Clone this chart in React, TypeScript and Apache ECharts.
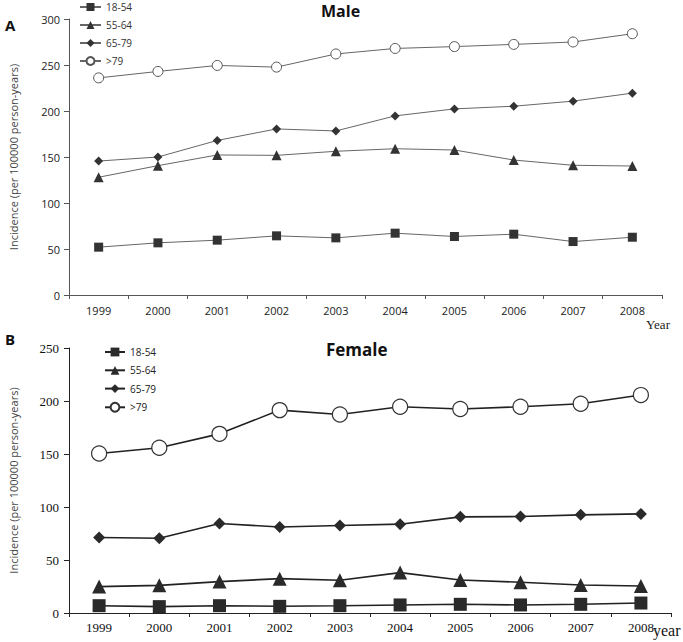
import React, { useEffect, useRef } from "react";
import * as echarts from "echarts";

const years = ["1999", "2000", "2001", "2002", "2003", "2004", "2005", "2006", "2007", "2008"];
const groups = ["18-54", "55-64", "65-79", ">79"];

const male18_54 = [52, 56.7, 59.6, 64.3, 62.1, 67.2, 63.6, 66.1, 58.1, 62.8];
const male55_64 = [128, 140.6, 152.2, 151.8, 156.2, 159, 157.6, 146.7, 141, 140.2];
const male65_79 = [145.6, 150, 168, 180.5, 178.3, 194.7, 202.3, 205.2, 210.7, 219.4];
const male79 = [236, 243, 249.5, 247.7, 262, 268, 270, 272.4, 275, 284];

const female18_54 = [6.9, 6, 6.9, 6.3, 6.9, 7.6, 8.2, 7.6, 8.2, 9.4];
const female55_64 = [24.9, 26.1, 29.6, 32.4, 30.9, 38.1, 31.2, 29, 26.4, 25.5];
const female65_79 = [71.2, 70.5, 84.4, 81.2, 82.5, 83.8, 90.7, 91, 92.6, 93.5];
const female79 = [150.5, 155.9, 169, 191.4, 187.3, 194.6, 192.4, 194.6, 197.4, 205.6];

const maleData = [male18_54, male55_64, male65_79, male79];
const femaleData = [female18_54, female55_64, female65_79, female79];

const symbols = ["rect", "triangle", "diamond", "circle"];
const topSizes = [9, 10, 9, 10];
const botSizes = [13, 14, 12, 15];

const SANS = "'Open Sans', 'Noto Sans', sans-serif";
const SERIF = "'Liberation Serif', 'DejaVu Serif', serif";

export default function App() {
  const ref = useRef<HTMLDivElement>(null);
  useEffect(() => {
    if (!ref.current) return;
    const chart = echarts.init(ref.current, undefined, { renderer: "svg" });

    const series: any[] = [];
    groups.forEach((g, i) => {
      const open = i === 3;
      series.push({
        name: "M " + g,
        type: "line",
        xAxisIndex: 0,
        yAxisIndex: 0,
        data: maleData[i],
        symbol: symbols[i],
        symbolSize: topSizes[i],
        showAllSymbol: true,
        lineStyle: { color: "#666", width: 1 },
        itemStyle: open
          ? { color: "#fff", borderColor: "#555", borderWidth: 1 }
          : { color: "#333", borderWidth: 0 },
      });
    });
    groups.forEach((g, i) => {
      const open = i === 3;
      series.push({
        name: "F " + g,
        type: "line",
        xAxisIndex: 1,
        yAxisIndex: 1,
        data: femaleData[i],
        symbol: symbols[i],
        symbolSize: botSizes[i],
        showAllSymbol: true,
        lineStyle: { color: "#222", width: 1.6 },
        itemStyle: open
          ? { color: "#fff", borderColor: "#333", borderWidth: 1.2 }
          : { color: "#2a2a2a", borderWidth: 0 },
      });
    });

    const option: any = {
      animation: false,
      backgroundColor: "#fff",
      grid: [
        { left: 66, right: 21, top: 19, height: 276 },
        { left: 67, right: 12, top: 348, height: 265 },
      ],
      xAxis: [
        {
          gridIndex: 0,
          type: "category",
          data: years,
          boundaryGap: true,
          axisLine: { lineStyle: { color: "#555", width: 1 } },
          axisTick: { show: true, length: 4, lineStyle: { color: "#555" } },
          axisLabel: { color: "#222", fontFamily: SANS, fontSize: 11, margin: 10 },
        },
        {
          gridIndex: 1,
          type: "category",
          data: years,
          boundaryGap: true,
          axisLine: { lineStyle: { color: "#222", width: 1 } },
          axisTick: { show: true, length: 4, lineStyle: { color: "#222" } },
          axisLabel: { color: "#111", fontFamily: SERIF, fontSize: 13, margin: 8 },
        },
      ],
      yAxis: [
        {
          gridIndex: 0,
          type: "value",
          min: 0,
          max: 300,
          interval: 50,
          splitLine: { show: false },
          axisLine: { show: true, lineStyle: { color: "#555", width: 1 } },
          axisTick: { show: true, length: 5, lineStyle: { color: "#555" } },
          axisLabel: { color: "#222", fontFamily: SANS, fontSize: 11, margin: 9 },
          name: "Incidence (per 100000 person-years)",
          nameLocation: "middle",
          nameRotate: 90,
          nameGap: 50,
          nameTextStyle: { color: "#444", fontFamily: SANS, fontSize: 11 },
        },
        {
          gridIndex: 1,
          type: "value",
          min: 0,
          max: 250,
          interval: 50,
          splitLine: { show: false },
          axisLine: { show: true, lineStyle: { color: "#222", width: 1 } },
          axisTick: { show: true, length: 5, lineStyle: { color: "#222" } },
          axisLabel: { color: "#111", fontFamily: SERIF, fontSize: 13, margin: 10 },
          name: "Incidence (per 100000 person-years)",
          nameLocation: "middle",
          nameRotate: 90,
          nameGap: 50,
          nameTextStyle: { color: "#444", fontFamily: SANS, fontSize: 11 },
        },
      ],
      legend: [
        {
          data: groups.map((g) => "M " + g),
          orient: "vertical",
          left: 79,
          top: 2,
          padding: 0,
          itemWidth: 21,
          itemHeight: 10,
          itemGap: 8,
          formatter: (n: string) => n.slice(2),
          textStyle: { color: "#333", fontFamily: SANS, fontSize: 10 },
        },
        {
          data: groups.map((g) => "F " + g),
          orient: "vertical",
          left: 104,
          top: 347,
          padding: 0,
          itemWidth: 20,
          itemHeight: 11,
          itemGap: 8.3,
          formatter: (n: string) => n.slice(2),
          textStyle: { color: "#222", fontFamily: SANS, fontSize: 10 },
        },
      ],
      graphic: [
        { type: "text", left: 321, top: 2, style: { text: "Male", font: "bold 16px " + SANS, lineHeight: 18, fill: "#111" } },
        { type: "text", left: 5, top: 17, style: { text: "A", font: "bold 15px " + SANS, fill: "#111" } },
        { type: "text", left: 646, top: 318, style: { text: "Year", font: "13px " + SERIF, fill: "#222" } },
        { type: "text", left: 326, top: 341, style: { text: "Female", font: "bold 17px " + SANS, fill: "#111" } },
        { type: "text", left: 5, top: 331, style: { text: "B", font: "bold 15px " + SANS, fill: "#111" } },
        { type: "text", left: 653, top: 622, style: { text: "year", font: "16px " + SERIF, fill: "#111" } },
      ],
      series,
    };
    chart.setOption(option);
    return () => chart.dispose();
  }, []);

  return (
    <div
      ref={ref}
      style={{ position: "fixed", left: 0, top: 0, width: 683, height: 642, background: "#fff" }}
    />
  );
}
